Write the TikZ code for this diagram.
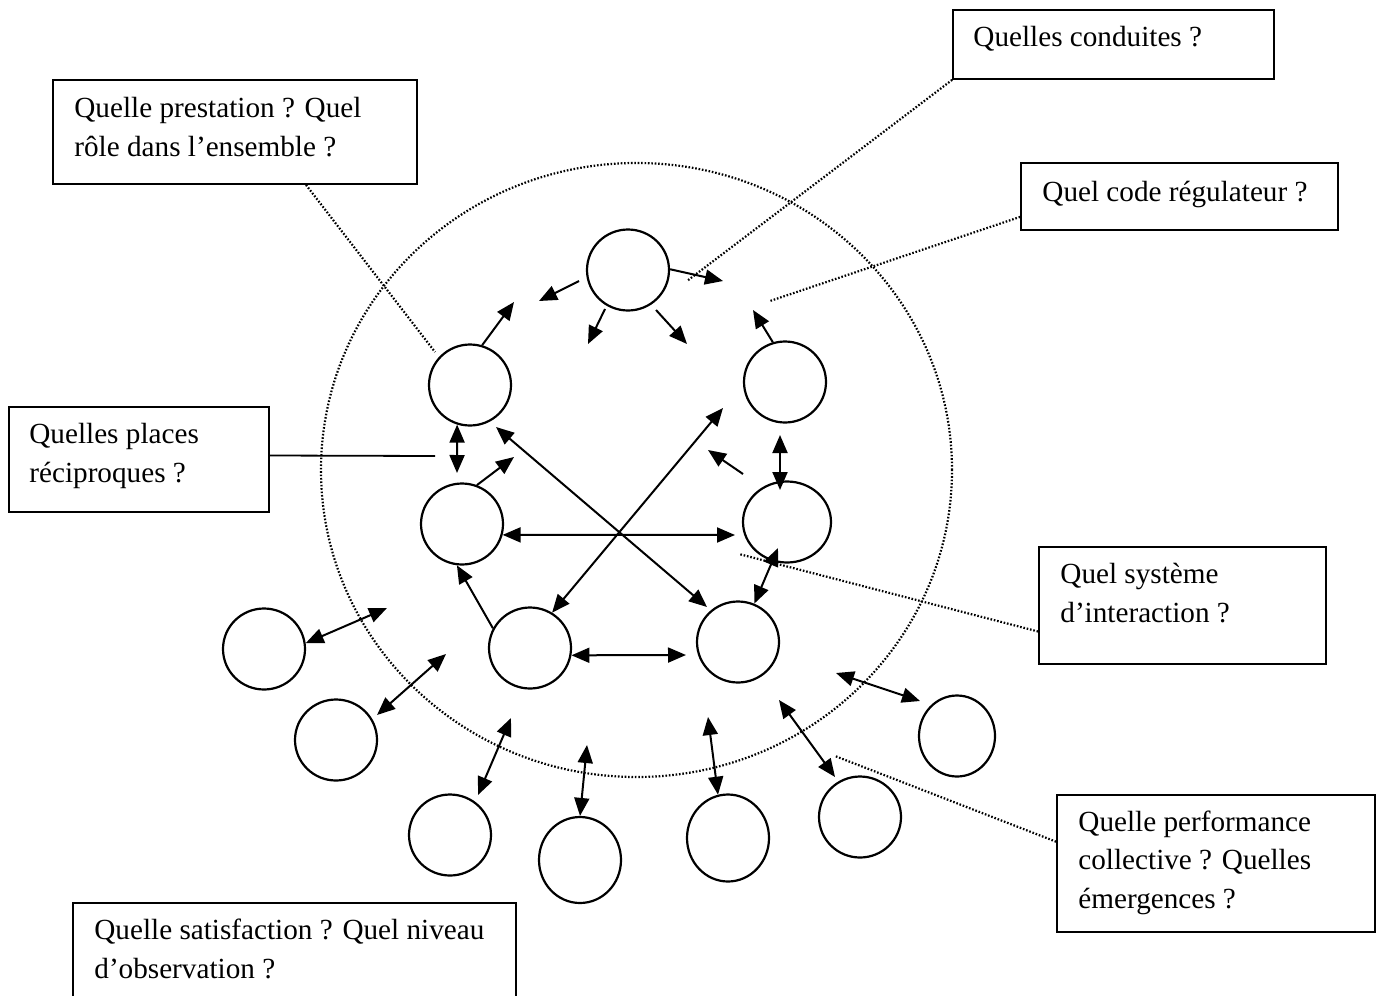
\documentclass[tikz,border=0pt]{standalone}
\usepackage{fontspec}
\setmainfont{Liberation Serif}
\usetikzlibrary{arrows.meta,shapes.geometric,fit}
\begin{document}
\begin{tikzpicture}[x=0.5pt,y=-0.5pt,
  agent/.style={draw, ellipse, line width=1.1pt, minimum width=41pt, minimum height=40.5pt, inner sep=0pt},
  box/.style={draw, line width=0.9pt, inner sep=0pt, rectangle},
  txt/.style={font=\fontsize{14.6pt}{19.2pt}\selectfont, inner sep=0pt, align=left, anchor=base west},
  arr/.style={line width=1pt, -{Triangle[length=9pt,width=7.5pt]}},
  dbl/.style={line width=1pt, {Triangle[length=9pt,width=7.5pt]}-{Triangle[length=9pt,width=7.5pt]}},
  dotline/.style={line width=1.1pt, dash pattern=on 0.8pt off 0.9pt},
]
\useasboundingbox (0,0) rectangle (1379,995);
\clip (0,0) rectangle (1379,995);

% big dotted circle
\draw[dotline] (636.5,470) ellipse [x radius=157.75pt, y radius=153.5pt];

% agents
\node[agent] (T)  at (628,270) {};
\node[agent] (UL) at (470,385) {};
\node[agent] (UR) at (785,382) {};
\node[agent] (ML) at (462,524) {};
\node[agent, minimum width=44pt] (MR) at (787,522) {};
\node[agent] (BL) at (530,648) {};
\node[agent] (BR) at (738,642) {};
\node[agent] (O1) at (264,649) {};
\node[agent] (O2) at (336,740) {};
\node[agent] (O3) at (450,835) {};
\node[agent, minimum height=43pt] (O4) at (580,860) {};
\node[agent, minimum height=43.5pt] (O5) at (728,838) {};
\node[agent] (O6) at (860,817) {};
\node[agent, minimum width=38pt] (O7) at (957,736) {};

% free arrow ends
\foreach \n/\x/\y in {
  a1s/579/281, a1e/539/301, a2s/605/309, a2e/588/344, a3s/656/310, a3e/687/344,
  a4e/723/281, a5e/514/302, a6e/753/310, a7e/457/473, a8e/514/457,
  a9s/780/435, a9e/780/490, a10s/743/474, a10e/708/450, a11e/735/535,
  a12s/496/427, a12e/707/607, a13e/723/408, a15e/686/655, a16s/778/548,
  b1e/387/608, b2s/377/715, b2e/446/654, b3s/478/795, b3e/511/718,
  b4e/587/745, b5e/708/717, b6s/779/700, b6e/835/777, b7s/836/673, b7e/920/701,
  c1e/687/281, c2e/770/301, c3e/435/352, c4e/435/456, c5e/739/554, c6e/835/756}
  \coordinate (\n) at (\x,\y);

% arrows
\draw[arr] (a1s) -- (a1e);
\draw[arr] (a2s) -- (a2e);
\draw[arr] (a3s) -- (a3e);
\draw[arr] (T.1) -- (a4e);
\draw[arr] (UL.73) -- (a5e);
\draw[arr] (UR.107) -- (a6e);
\draw[dbl] (UL.-108) -- (a7e);
\draw[arr] (ML.69) -- (a8e);
\draw[dbl] (a9s) -- (a9e);
\draw[arr] (a10s) -- (a10e);
\draw[dbl] (ML.-15) -- (a11e);
\draw[dbl] (a12s) -- (a12e);
\draw[dbl] (BL.58) -- (a13e);
\draw[arr] (BL.152) -- (ML.-97);
\draw[dbl] (BL.-10) -- (a15e);
\draw[dbl] (a16s) -- (BR.67);
\draw[dbl] (O1.8) -- (b1e);
\draw[dbl] (b2s) -- (b2e);
\draw[dbl] (b3s) -- (b3e);
\draw[dbl] (O4.90) -- (b4e);
\draw[dbl] (O5.103) -- (b5e);
\draw[dbl] (b6s) -- (b6e);
\draw[dbl] (b7s) -- (b7e);

% boxes
\node[box, fit={(953,10) (1274,79)}] (B1) {};
\node[box, fit={(1021,163) (1338,230)}] (B2) {};
\node[box, fit={(53,80) (417,184)}] (B3) {};
\node[box, fit={(9,407) (269,512)}] (B4) {};
\node[box, fit={(1039,547) (1326,664)}] (B5) {};
\node[box, fit={(1057,795) (1375,932)}] (B6) {};
\node[box, fit={(73,903) (516,1005)}] (B7) {};

% texts (anchor = baseline of the last line)
\node[txt] (T1) at (973,47) {Quelles conduites ?};
\node[txt] (T2) at (1042,201) {Quel code régulateur ?};
\node[txt] (T3) at (74,156) {Quelle prestation ? Quel\\rôle dans l’ensemble ?};
\node[txt] (T4) at (29,482) {Quelles places\\réciproques ?};
\node[txt] (T5) at (1060,622) {Quel système\\d’interaction ?};
\node[txt] (T6) at (1078,908) {Quelle performance\\collective ? Quelles\\émergences ?};
\node[txt] (T7) at (94,978) {Quelle satisfaction ? Quel niveau\\d’observation ?};

% callout lines
\draw[dotline] (B1.south west) -- (c1e);
\draw[dotline] ([yshift=7pt]B2.south west) -- (c2e);
\draw[dotline] ([xshift=35.5pt]B3.south) -- (c3e);
\draw[line width=0.9pt] ([yshift=2pt]B4.east) -- (c4e);
\draw[dotline] ([yshift=-13pt]B5.west) -- (c5e);
\draw[dotline] ([yshift=10.9pt]B6.west) -- (c6e);
\end{tikzpicture}
\end{document}
